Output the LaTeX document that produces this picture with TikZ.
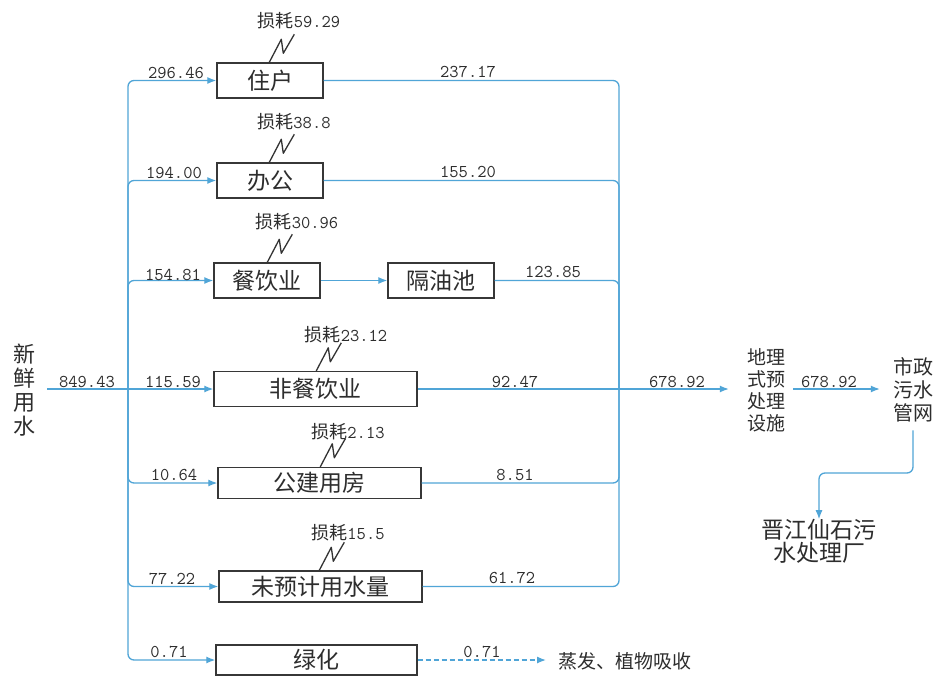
\documentclass[tikz,border=0pt]{standalone}
\usepackage{fontspec}
\newfontfamily\cjk{Noto Sans CJK SC}
\usetikzlibrary{arrows.meta}
\definecolor{flowblue}{RGB}{80,165,215}
\definecolor{boxgray}{RGB}{55,55,55}
\definecolor{txtgray}{RGB}{45,45,45}
\begin{document}
\begin{tikzpicture}[x=1pt,y=-1pt,
  flow/.style={draw=flowblue, line width=1.3pt, rounded corners=6pt},
  arr/.style={-{Latex[length=9pt,width=7pt]}},
  box/.style={draw=boxgray, line width=1.4pt, minimum height=35pt, inner sep=0pt,
    font={\cjk\fontsize{23}{23}\selectfont}, text=txtgray},
  num/.style={font={\ttfamily\fontsize{18}{18}\selectfont}, text=txtgray, inner sep=0pt},
  loss/.style={font={\fontsize{18}{18}\selectfont}, text=txtgray, inner sep=0pt},
  stack/.style={font={\cjk\fontsize{19}{22}\selectfont}, text=txtgray, align=center, inner sep=0pt},
  zig/.style={draw=black!80, line width=1.3pt, line join=round},
]
\useasboundingbox[fill=white] (0,0) rectangle (934,677);

% boxes
\node[box, minimum width=106pt] (zhuhu) at (270,80.5) {住户};
\node[box, minimum width=106pt] (bangong) at (270,180.5) {办公};
\node[box, minimum width=106pt] (canyin) at (267,280.5) {餐饮业};
\node[box, minimum width=106pt] (geyou) at (441,280.5) {隔油池};
\node[box, minimum width=203pt] (feican) at (315.5,389) {非餐饮业};
\node[box, minimum width=203pt, minimum height=31pt] (gongjian) at (319.5,483) {公建用房};
\node[box, minimum width=203pt, minimum height=31pt] (weiyuji) at (320.5,586.5) {未预计用水量};
\node[box, minimum width=201pt, minimum height=30pt] (lvhua) at (316.5,660) {绿化};

% text nodes
\node[stack, font={\cjk\fontsize{22}{24}\selectfont}] (xinxian) at (24,390) {新\\鲜\\用\\水};
\node[stack] (dili) at (766,390) {地理\\式预\\处理\\设施};
\node[stack, font={\cjk\fontsize{20}{23}\selectfont}] (shizheng) at (913,390) {市政\\污水\\管网};
\node[stack, font={\cjk\fontsize{23}{23}\selectfont}] (jinjiang) at (819,541.5) {晋江仙石污\\水处理厂};
\node[stack, anchor=west] (zhengfa) at (558,661) {蒸发、植物吸收};

% junctions
\coordinate (jin) at (128,389);
\coordinate (jout) at (619,389);
\coordinate (bend) at (913,473);

% input
\draw[flow] ([xshift=12pt]xinxian.east |- jin) -- (jin);

% left branches
\draw[flow,arr] (jin) |- (zhuhu.west);
\draw[flow,arr] (jin) |- (bangong.west);
\draw[flow,arr] (jin) |- (canyin.west);
\draw[flow,arr] (jin) -- (feican.west);
\draw[flow,arr] (jin) |- (gongjian.west);
\draw[flow,arr] (jin) |- (weiyuji.west);
\draw[flow,arr] (jin) |- (lvhua.west);

\draw[flow,arr] (canyin) -- (geyou);

% right collection
\draw[flow] (zhuhu.east) -| (jout);
\draw[flow] (bangong.east) -| (jout);
\draw[flow] (geyou.east) -| (jout);
\draw[flow] (feican.east) -- (jout);
\draw[flow] (gongjian.east) -| (jout);
\draw[flow] (weiyuji.east) -| (jout);

\draw[flow,arr,shorten >=18pt] (jout) -- (dili.west |- jout);
\draw[flow,arr,shorten <=8pt,shorten >=13pt] (dili.east |- jout) -- (shizheng.west |- jout);
\draw[flow,arr,shorten <=8pt] (shizheng.south) -- (bend) -| (jinjiang.north);
\draw[flow,arr,dashed,dash pattern=on 5pt off 3pt,shorten >=12pt] (lvhua.east) -- (zhengfa.west |- lvhua.east);

% flow labels
\node[num] (n1) at (176,73) {296.46};
\node[num] (n2) at (174,173) {194.00};
\node[num] (n3) at (173,275) {154.81};
\node[num] (n0) at (87,382) {849.43};
\node[num] (n4) at (173,382) {115.59};
\node[num] (n5) at (174,475) {10.64};
\node[num] (n6) at (172,579) {77.22};
\node[num] (n7) at (169,652) {0.71};
\node[num] (m1) at (468,72) {237.17};
\node[num] (m2) at (468,172) {155.20};
\node[num] (m3) at (553,272) {123.85};
\node[num] (m4) at (515,382) {92.47};
\node[num] (m5) at (515,475) {8.51};
\node[num] (m6) at (512,578) {61.72};
\node[num] (m7) at (482,652) {0.71};
\node[num] (o1) at (677,382) {678.92};
\node[num] (o2) at (829,382) {678.92};

% losses
\node[loss] (s1) at (299,21) {{\cjk 损耗}{\ttfamily 59.29}};
\node[loss] (s2) at (294,122) {{\cjk 损耗}{\ttfamily 38.8}};
\node[loss] (s3) at (297,222) {{\cjk 损耗}{\ttfamily 30.96}};
\node[loss] (s4) at (346,335) {{\cjk 损耗}{\ttfamily 23.12}};
\node[loss] (s5) at (348,432) {{\cjk 损耗}{\ttfamily 2.13}};
\node[loss] (s6) at (348,533) {{\cjk 损耗}{\ttfamily 15.5}};

\draw[zig] ([xshift=53pt]zhuhu.north west) -- ++(12,-23) -- ++(2,14) -- ++(11,-19);
\draw[zig] ([xshift=53pt]bangong.north west) -- ++(12,-23) -- ++(2,14) -- ++(11,-19);
\draw[zig] ([xshift=54pt]canyin.north west) -- ++(12,-23) -- ++(2,14) -- ++(11,-19);
\draw[zig] ([xshift=103pt]feican.north west) -- ++(12,-23) -- ++(2,14) -- ++(11,-19);
\draw[zig] ([xshift=103pt]gongjian.north west) -- ++(12,-23) -- ++(2,14) -- ++(11,-19);
\draw[zig] ([xshift=101pt]weiyuji.north west) -- ++(12,-23) -- ++(2,14) -- ++(11,-19);
\end{tikzpicture}
\end{document}
